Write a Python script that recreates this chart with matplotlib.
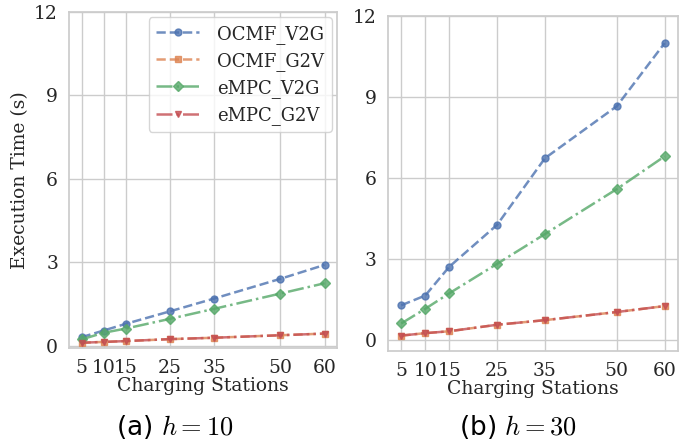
# Execution time vs number of charging stations, two horizons

import numpy as np
import matplotlib.pyplot as plt
import seaborn as sns

sns.set_theme(style='whitegrid', palette='deep')
plt.rcParams['font.family'] = 'DejaVu Serif'
plt.rcParams['mathtext.fontset'] = 'cm'

stations = [5, 10, 15, 25, 35, 50, 60]
labels = ['OCMF_V2G', 'OCMF_G2V', 'eMPC_V2G', 'eMPC_G2V']

# h = 10
ocmf_v2g_10 = [0.30, 0.54, 0.78, 1.23, 1.69, 2.40, 2.90]
ocmf_g2v_10 = [0.10, 0.13, 0.16, 0.23, 0.28, 0.37, 0.43]
empc_v2g_10 = [0.22, 0.46, 0.61, 0.96, 1.32, 1.87, 2.24]
empc_g2v_10 = [0.10, 0.13, 0.16, 0.23, 0.28, 0.37, 0.43]

# h = 30
ocmf_v2g_30 = [1.30, 1.66, 2.72, 4.27, 6.73, 8.65, 10.98]
ocmf_g2v_30 = [0.18, 0.27, 0.34, 0.58, 0.75, 1.05, 1.27]
empc_v2g_30 = [0.63, 1.17, 1.74, 2.83, 3.93, 5.59, 6.80]
empc_g2v_30 = [0.18, 0.27, 0.34, 0.58, 0.75, 1.05, 1.27]

styles = [('--', 'o'), ('--', 's'), ('-.', 'D'), ('-.', 'v')]
colors = sns.color_palette('deep')[:4]

fig = plt.figure(figsize=(6.99, 4.43), dpi=100)
ax1 = fig.add_axes([0.099, 0.215, 0.383, 0.758])
ax2 = fig.add_axes([0.555, 0.207, 0.415, 0.758])

series = [
    (ax1, [ocmf_v2g_10, ocmf_g2v_10, empc_v2g_10, empc_g2v_10]),
    (ax2, [ocmf_v2g_30, ocmf_g2v_30, empc_v2g_30, empc_g2v_30]),
]
for ax, data in series:
    for vals, lab, (ls, mk), c in zip(data, labels, styles, colors):
        ax.plot(stations, vals, linestyle=ls, marker=mk, color=c, label=lab,
                alpha=0.8, linewidth=1.8, markersize=5)
    ax.set_xticks(stations)
    ax.set_yticks([0, 3, 6, 9, 12])
    ax.tick_params(labelsize=13.5, pad=2)
    ax.set_xlabel('Charging Stations', fontsize=13.5, labelpad=0)
    ax.set_xlim(2.2, 62.8)

ax1.set_ylim(-0.08, 12)
ax2.set_ylim(-0.4, 12)
ax1.set_ylabel('Execution Time (s)', fontsize=13.5)
ax1.legend(fontsize=13, loc='upper right', handlelength=2.4, borderaxespad=0.3,
           labelspacing=0.45, handletextpad=1.0)

fig.text(0.25, 0.036, '(a) $h = 10$', ha='center', va='center', fontsize=19,
         family='DejaVu Sans', color='black')
fig.text(0.741, 0.036, '(b) $h = 30$', ha='center', va='center', fontsize=19,
         family='DejaVu Sans', color='black')

plt.savefig('out.png')
